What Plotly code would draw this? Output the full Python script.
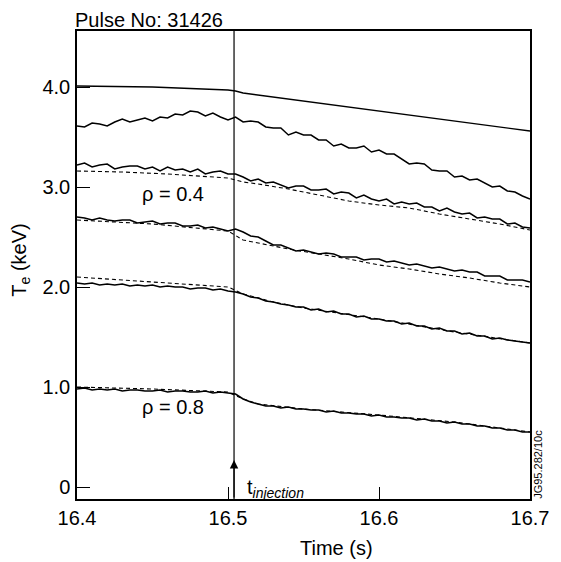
import plotly.graph_objects as go

# ---------------- data ----------------
time_s = [round(16.4 + 0.005 * i, 3) for i in range(61)]  # sampling grid 16.400 ... 16.700

# top smooth solid trace
top_t = [16.40, 16.45, 16.50, 16.505, 16.51, 16.55, 16.60, 16.65, 16.70]
top_te = [4.01, 4.00, 3.97, 3.96, 3.94, 3.86, 3.76, 3.66, 3.56]

te_a = [3.61, 3.60, 3.64, 3.63, 3.61, 3.65, 3.68, 3.65, 3.67, 3.69,
        3.66, 3.70, 3.69, 3.73, 3.72, 3.76, 3.75, 3.71, 3.74, 3.70,
        3.67, 3.70, 3.65, 3.66, 3.65, 3.60, 3.59, 3.59, 3.52, 3.55,
        3.52, 3.52, 3.47, 3.47, 3.41, 3.43, 3.39, 3.39, 3.41, 3.35,
        3.37, 3.33, 3.33, 3.28, 3.23, 3.24, 3.23, 3.17, 3.16, 3.16,
        3.10, 3.11, 3.07, 3.08, 3.04, 3.00, 3.01, 2.96, 2.95, 2.91, 2.88]

te_b = [3.22, 3.24, 3.20, 3.22, 3.23, 3.18, 3.20, 3.21, 3.21, 3.18,
        3.20, 3.16, 3.20, 3.17, 3.18, 3.15, 3.18, 3.13, 3.15, 3.16,
        3.13, 3.13, 3.10, 3.06, 3.08, 3.04, 3.05, 3.02, 2.99, 3.01,
        3.01, 2.97, 2.97, 2.98, 2.93, 2.95, 2.94, 2.89, 2.92, 2.88,
        2.86, 2.88, 2.83, 2.85, 2.83, 2.84, 2.80, 2.80, 2.76, 2.79,
        2.75, 2.73, 2.74, 2.69, 2.70, 2.68, 2.68, 2.63, 2.64, 2.60, 2.59]

te_c = [2.70, 2.69, 2.67, 2.69, 2.67, 2.66, 2.67, 2.67, 2.64, 2.65,
        2.66, 2.63, 2.64, 2.64, 2.61, 2.61, 2.62, 2.59, 2.60, 2.58,
        2.56, 2.58, 2.55, 2.51, 2.50, 2.46, 2.42, 2.42, 2.39, 2.36,
        2.37, 2.35, 2.33, 2.34, 2.33, 2.30, 2.30, 2.30, 2.27, 2.28,
        2.28, 2.25, 2.26, 2.24, 2.22, 2.23, 2.21, 2.19, 2.20, 2.18,
        2.16, 2.17, 2.15, 2.15, 2.11, 2.11, 2.11, 2.07, 2.07, 2.07, 2.05]

te_d = [2.04, 2.03, 2.04, 2.02, 2.03, 2.02, 2.03, 2.01, 2.02, 2.01,
        2.02, 2.00, 2.01, 2.00, 2.00, 1.98, 1.99, 1.99, 1.97, 1.98,
        1.96, 1.95, 1.93, 1.90, 1.89, 1.86, 1.85, 1.83, 1.82, 1.80,
        1.80, 1.77, 1.78, 1.75, 1.76, 1.73, 1.73, 1.70, 1.71, 1.68,
        1.68, 1.66, 1.66, 1.63, 1.64, 1.61, 1.61, 1.58, 1.59, 1.56,
        1.56, 1.53, 1.54, 1.51, 1.51, 1.48, 1.49, 1.47, 1.46, 1.45, 1.44]

te_e = [0.98, 0.99, 0.97, 0.98, 0.97, 0.98, 0.96, 0.97, 0.97, 0.96,
        0.96, 0.97, 0.95, 0.96, 0.96, 0.95, 0.95, 0.96, 0.94, 0.95,
        0.94, 0.93, 0.88, 0.85, 0.83, 0.81, 0.81, 0.79, 0.80, 0.78,
        0.78, 0.77, 0.77, 0.75, 0.76, 0.74, 0.74, 0.73, 0.73, 0.71,
        0.72, 0.70, 0.70, 0.69, 0.69, 0.67, 0.68, 0.66, 0.66, 0.64,
        0.65, 0.63, 0.63, 0.61, 0.61, 0.59, 0.59, 0.57, 0.57, 0.55, 0.55]

# dashed (model) traces
dash_b_t = [16.40, 16.43, 16.46, 16.49, 16.50, 16.51, 16.52, 16.54, 16.56, 16.58, 16.60, 16.62, 16.64, 16.66, 16.68, 16.70]
dash_b = [3.16, 3.15, 3.13, 3.10, 3.09, 3.05, 3.03, 2.98, 2.92, 2.86, 2.82, 2.79, 2.73, 2.68, 2.63, 2.57]

dash_c_t = [16.40, 16.45, 16.50, 16.51, 16.52, 16.54, 16.56, 16.58, 16.60, 16.62, 16.64, 16.66, 16.68, 16.70]
dash_c = [2.67, 2.63, 2.56, 2.47, 2.44, 2.38, 2.33, 2.28, 2.22, 2.18, 2.13, 2.09, 2.04, 2.00]

dash_d_t = [16.40, 16.45, 16.50, 16.51, 16.53, 16.55, 16.60, 16.65, 16.70]
dash_d = [2.10, 2.05, 2.00, 1.93, 1.85, 1.79, 1.68, 1.55, 1.44]

dash_e_t = [16.40, 16.45, 16.50, 16.51, 16.52, 16.55, 16.60, 16.65, 16.70]
dash_e = [1.00, 0.98, 0.95, 0.88, 0.83, 0.78, 0.72, 0.65, 0.55]

t_injection = 16.504

x_tickvals = [16.4, 16.5, 16.6, 16.7]
x_ticktext = ["16.4", "16.5", "16.6", "16.7"]
y_tickvals = [0, 1, 2, 3, 4]
y_ticktext = ["0", "1.0", "2.0", "3.0", "4.0"]

FONT = "Arial, 'Liberation Sans', Helvetica, sans-serif"

# ---------------- figure ----------------
fig = go.Figure()

solid = dict(color="black", width=1.4)
noisy = dict(color="black", width=1.5)
dashed = dict(color="black", width=1.1, dash="4px,3px")

fig.add_trace(go.Scatter(x=top_t, y=top_te, mode="lines", line=solid))
for series in (te_a, te_b, te_c, te_d, te_e):
    fig.add_trace(go.Scatter(x=time_s, y=series, mode="lines", line=noisy))
for tt, yy in ((dash_b_t, dash_b), (dash_c_t, dash_c), (dash_d_t, dash_d), (dash_e_t, dash_e)):
    fig.add_trace(go.Scatter(x=tt, y=yy, mode="lines", line=dashed))

# injection time marker
fig.add_shape(type="line", x0=t_injection, x1=t_injection, y0=0, y1=1,
              xref="x", yref="paper", line=dict(color="black", width=1.2))
fig.add_annotation(x=t_injection, y=0.27, ax=t_injection, ay=-0.12,
                   xref="x", yref="y", axref="x", ayref="y",
                   text="", showarrow=True, arrowhead=2, arrowsize=1.4,
                   arrowwidth=1.2, arrowcolor="black", standoff=0)
fig.add_annotation(x=16.511, y=-0.01, xref="x", yref="y",
                   text="t<sub><i>injection</i></sub>", showarrow=False,
                   xanchor="left", yanchor="middle",
                   font=dict(family=FONT, size=20, color="black"))

fig.add_annotation(x=16.4637, y=2.93, xref="x", yref="y", text="ρ = 0.4",
                   showarrow=False, xanchor="center", yanchor="middle",
                   font=dict(family=FONT, size=20, color="black"))
fig.add_annotation(x=16.4637, y=0.80, xref="x", yref="y", text="ρ = 0.8",
                   showarrow=False, xanchor="center", yanchor="middle",
                   font=dict(family=FONT, size=20, color="black"))

fig.add_annotation(x=-0.007, y=1.0, xref="paper", yref="paper",
                   text="Pulse No: 31426", showarrow=False,
                   xanchor="left", yanchor="bottom", yshift=-1, borderpad=0,
                   font=dict(family=FONT, size=20, color="black"))

fig.add_annotation(x=-0.125, y=0.51, xref="paper", yref="paper",
                   text="T<sub>e</sub> (keV)", showarrow=False, textangle=-90,
                   xanchor="center", yanchor="middle",
                   font=dict(family=FONT, size=20, color="black"))

fig.add_annotation(x=0.573, y=-0.105, xref="paper", yref="paper",
                   text="Time (s)", showarrow=False,
                   xanchor="center", yanchor="middle",
                   font=dict(family=FONT, size=20, color="black"))

fig.add_annotation(x=1.0175, y=0.075, xref="paper", yref="paper",
                   text="JG95.282/10c", showarrow=False, textangle=-90,
                   xanchor="center", yanchor="middle",
                   font=dict(family=FONT, size=11, color="black"))

# page body has an 8px margin: size/margins chosen so the plot area lands at x 77-534, y 31-499
fig.update_layout(
    width=553, height=554,
    margin=dict(l=69, r=27, t=23, b=63),
    paper_bgcolor="white", plot_bgcolor="white",
    showlegend=False,
    font=dict(family=FONT, size=20, color="black"),
)
fig.update_xaxes(
    range=[16.4, 16.7], tickvals=x_tickvals, ticktext=x_ticktext,
    ticks="inside", ticklen=12, tickwidth=1.2, tickcolor="black",
    showline=True, linecolor="black", linewidth=1.5, mirror=True,
    showgrid=False, zeroline=False, ticklabelstandoff=0,
    tickfont=dict(family=FONT, size=20, color="black"),
)
fig.update_yaxes(
    range=[-0.12, 4.56], tickvals=y_tickvals, ticktext=y_ticktext,
    ticks="inside", ticklen=13, tickwidth=1.2, tickcolor="black",
    showline=True, linecolor="black", linewidth=1.5, mirror=True,
    showgrid=False, zeroline=False, ticklabelstandoff=1,
    tickfont=dict(family=FONT, size=20, color="black"),
)

fig.write_html("out.html")
